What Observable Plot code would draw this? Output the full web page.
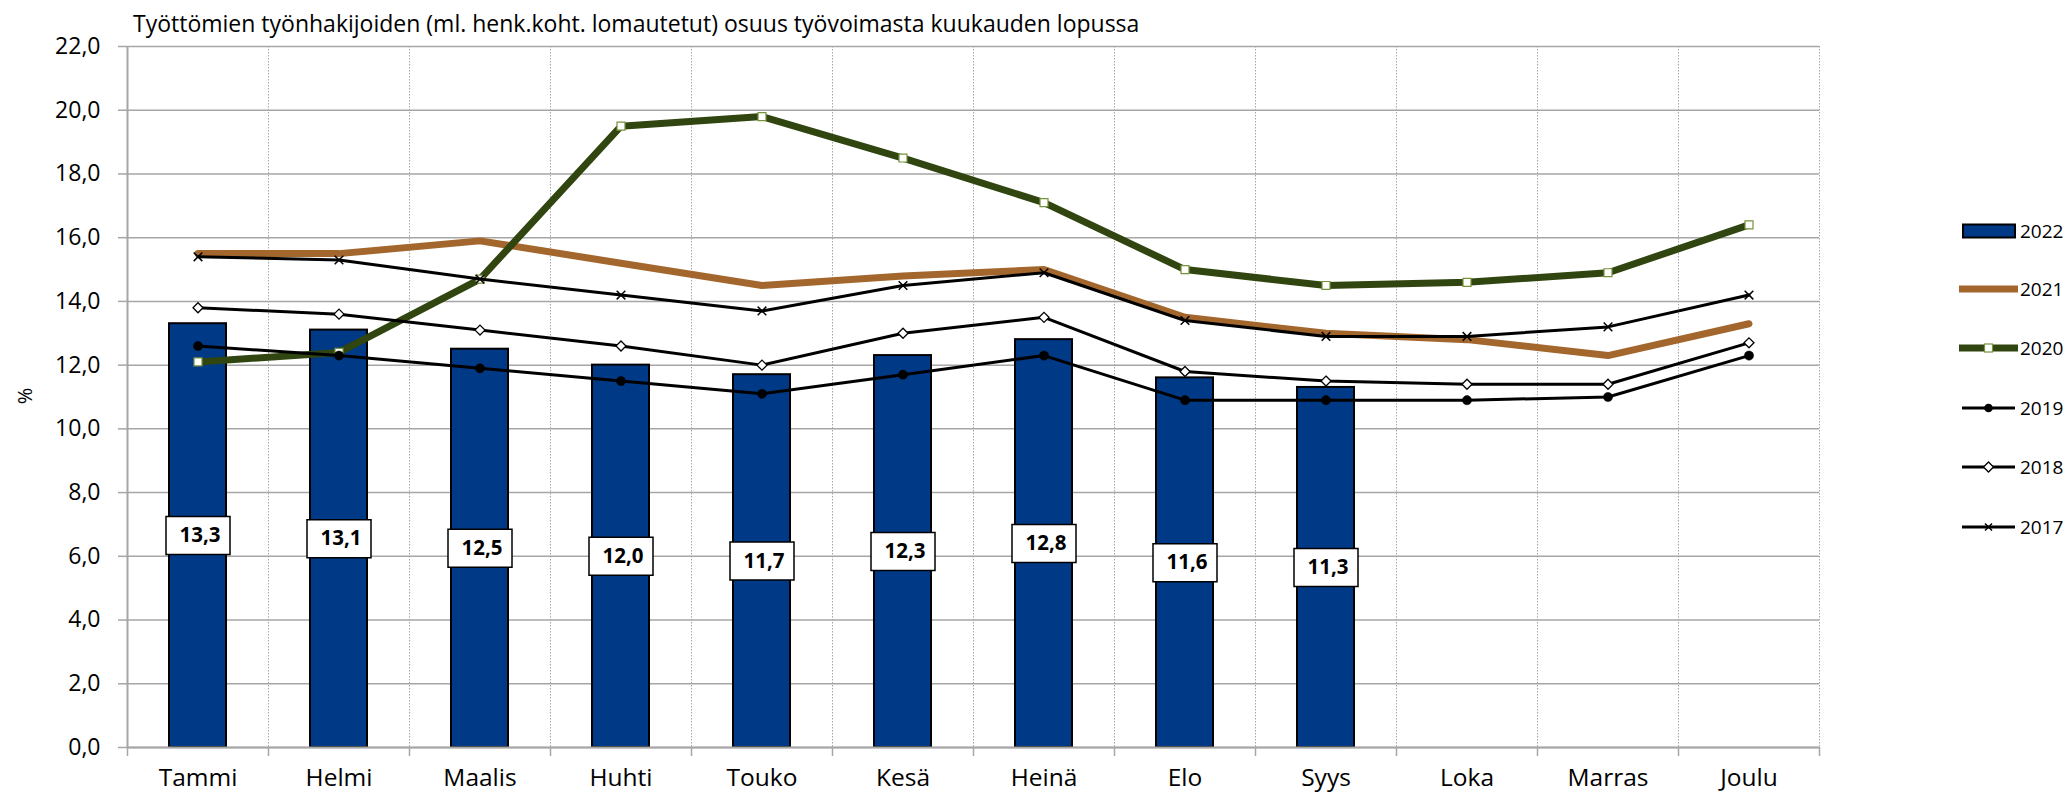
<!DOCTYPE html>
<html>
<head>
<meta charset="utf-8">
<script src="https://cdn.jsdelivr.net/npm/d3@7"></script>
<script src="https://cdn.jsdelivr.net/npm/@observablehq/plot@0.6"></script>
<style>
  html, body { margin: 0; padding: 0; background: #fff; }
  #wrap { position: relative; width: 2069px; height: 795px; font-family: "Open Sans", sans-serif; color: #000; }
  #title { position: absolute; left: 133px; top: 12px; font-size: 23px; line-height: 23px; white-space: nowrap; }
  #ylab { position: absolute; left: 24px; top: 396px; font-size: 20px; transform: translate(-50%, -50%) rotate(-90deg); }
  .leg { position: absolute; left: 1956px; height: 20px; display: flex; align-items: center; font-size: 19px; }
  .leg svg { width: 64px; height: 20px; }
</style>
</head>
<body>
<div id="wrap">
  <div id="chart"></div>
  <div id="title">Työttömien työnhakijoiden (ml. henk.koht. lomautetut) osuus työvoimasta kuukauden lopussa</div>
  <div id="ylab">%</div>
  <div id="legend"></div>
</div>
<script>
const months = ["Tammi", "Helmi", "Maalis", "Huhti", "Touko", "Kesä", "Heinä", "Elo", "Syys", "Loka", "Marras", "Joulu"];
const yTicks = [0, 2, 4, 6, 8, 10, 12, 14, 16, 18, 20, 22];

const v2022 = [13.3, 13.1, 12.5, 12.0, 11.7, 12.3, 12.8, 11.6, 11.3];
const v2021 = [15.5, 15.5, 15.9, 15.2, 14.5, 14.8, 15.0, 13.5, 13.0, 12.8, 12.3, 13.3];
const v2020 = [12.1, 12.4, 14.7, 19.5, 19.8, 18.5, 17.1, 15.0, 14.5, 14.6, 14.9, 16.4];
const v2019 = [12.6, 12.3, 11.9, 11.5, 11.1, 11.7, 12.3, 10.9, 10.9, 10.9, 11.0, 12.3];
const v2018 = [13.8, 13.6, 13.1, 12.6, 12.0, 13.0, 13.5, 11.8, 11.5, 11.4, 11.4, 12.7];
const v2017 = [15.4, 15.3, 14.7, 14.2, 13.7, 14.5, 14.9, 13.4, 12.9, 12.9, 13.2, 14.2];

const rows = vals => vals.map((value, i) => ({month: months[i], value}));
const fmt = d => d.toFixed(1).replace(".", ",");

const W = 2069, H = 795;
const mL = 127, mR = 250, mT = 46, mB = 48;
const step = (W - mL - mR) / months.length;

const COL = {
  bar: "#003A86", y2021: "#A3672E", y2020: "#30450F", mark2020: "#77933C",
  grid: "#A6A6A6"
};

const labelBox = {draw(ctx) { ctx.rect(-32, -19, 64, 38); }};

const chart = Plot.plot({
  width: W, height: H,
  marginLeft: mL, marginRight: mR, marginTop: mT, marginBottom: mB,
  style: {fontFamily: "Open Sans", color: "#000", background: "transparent", overflow: "visible"},
  x: {type: "band", domain: months, padding: 0, label: null},
  y: {domain: [0, 22], label: null},
  marks: [
    Plot.gridY(yTicks, {stroke: COL.grid, strokeOpacity: 1, strokeWidth: 1.5}),
    Plot.ruleX(months.slice(1), {x: d => d, dx: -step / 2, stroke: COL.grid, strokeWidth: 1, strokeDasharray: "1.5,1.5"}),
    Plot.ruleX([months[months.length - 1]], {x: d => d, dx: step / 2, stroke: COL.grid, strokeWidth: 1, strokeDasharray: "1.5,1.5"}),
    // bottom tick marks at category boundaries
    Plot.ruleX(months, {x: d => d, dx: -step / 2, y1: 0, y2: 0, insetBottom: -9, stroke: COL.grid, strokeWidth: 1.5}),
    Plot.ruleX([months[months.length - 1]], {x: d => d, dx: step / 2, y1: 0, y2: 0, insetBottom: -9, stroke: COL.grid, strokeWidth: 1.5}),
    Plot.barY(rows(v2022), {x: "month", y: "value", fill: COL.bar, stroke: "#000", strokeWidth: 2, insetLeft: 42, insetRight: 42}),
    Plot.ruleX([months[0]], {x: d => d, dx: -step / 2, stroke: COL.grid, strokeWidth: 2}),
    Plot.ruleY([0], {stroke: COL.grid, strokeWidth: 2}),
    Plot.axisY(yTicks, {tickFormat: fmt, tickSize: 9, tickPadding: 18, fontSize: 23, stroke: COL.grid, strokeWidth: 1.5, color: "#000", label: null}),
    Plot.axisX({tickSize: 0, tickPadding: 21, fontSize: 24.5, label: null}),
    // 2021
    Plot.line(rows(v2021), {x: "month", y: "value", stroke: COL.y2021, strokeWidth: 7, strokeLinejoin: "round"}),
    // 2020
    Plot.line(rows(v2020), {x: "month", y: "value", stroke: COL.y2020, strokeWidth: 7, strokeLinejoin: "round"}),
    Plot.dot(rows(v2020), {x: "month", y: "value", symbol: "square", r: 4.5, fill: "#fff", stroke: COL.mark2020, strokeWidth: 1.2}),
    // 2019
    Plot.line(rows(v2019), {x: "month", y: "value", stroke: "#000", strokeWidth: 3}),
    Plot.dot(rows(v2019), {x: "month", y: "value", symbol: "circle", r: 4.6, fill: "#000", stroke: "#000", strokeWidth: 0.5}),
    // 2018
    Plot.line(rows(v2018), {x: "month", y: "value", stroke: "#000", strokeWidth: 3}),
    Plot.dot(rows(v2018), {x: "month", y: "value", symbol: "diamond2", r: 4.5, fill: "#fff", stroke: "#000", strokeWidth: 1.3}),
    // 2017
    Plot.line(rows(v2017), {x: "month", y: "value", stroke: "#000", strokeWidth: 3}),
    Plot.dot(rows(v2017), {x: "month", y: "value", symbol: "times", r: 4, stroke: "#000", strokeWidth: 1.5}),
    // data labels for 2022
    Plot.dot(rows(v2022), {x: "month", y: d => d.value / 2, symbol: labelBox, fill: "#fff", stroke: "#000", strokeWidth: 1.5}),
    Plot.text(rows(v2022), {x: "month", y: d => d.value / 2, text: d => fmt(d.value), fontSize: 20.5, fontWeight: "bold", fill: "#000", dx: 2})
  ]
});
document.getElementById("chart").appendChild(chart);

// legend
const legendItems = [
  {label: "2022", kind: "bar", y: 231},
  {label: "2021", kind: "line", color: COL.y2021, w: 7, y: 289},
  {label: "2020", kind: "line", color: COL.y2020, w: 7, marker: "square", y: 348},
  {label: "2019", kind: "line", color: "#000", w: 3, marker: "circle", y: 408},
  {label: "2018", kind: "line", color: "#000", w: 3, marker: "diamond", y: 467},
  {label: "2017", kind: "line", color: "#000", w: 3, marker: "times", y: 527}
];
const leg = document.getElementById("legend");
for (const it of legendItems) {
  const div = document.createElement("div");
  div.className = "leg";
  div.style.top = (it.y - 10) + "px";
  let svg = `<svg viewBox="0 0 64 20">`;
  if (it.kind === "bar") {
    svg += `<rect x="7" y="3.5" width="52" height="13" fill="${COL.bar}" stroke="#000" stroke-width="2"/>`;
  } else {
    const x1 = it.w > 5 ? 3 : 6, x2 = it.w > 5 ? 62 : 59;
    svg += `<line x1="${x1}" x2="${x2}" y1="10" y2="10" stroke="${it.color}" stroke-width="${it.w}"/>`;
    if (it.marker === "square") svg += `<rect x="28.5" y="6" width="8" height="8" fill="#fff" stroke="${COL.mark2020}" stroke-width="1.2"/>`;
    if (it.marker === "circle") svg += `<circle cx="32.5" cy="10" r="4.3" fill="#000"/>`;
    if (it.marker === "diamond") svg += `<path d="M32.5,5 L37.5,10 L32.5,15 L27.5,10 Z" fill="#fff" stroke="#000" stroke-width="1.3"/>`;
    if (it.marker === "times") svg += `<path d="M29,6.5 L36,13.5 M36,6.5 L29,13.5" stroke="#000" stroke-width="1.5"/>`;
  }
  svg += `</svg>`;
  div.innerHTML = svg + `<span>${it.label}</span>`;
  leg.appendChild(div);
}
</script>
</body>
</html>
